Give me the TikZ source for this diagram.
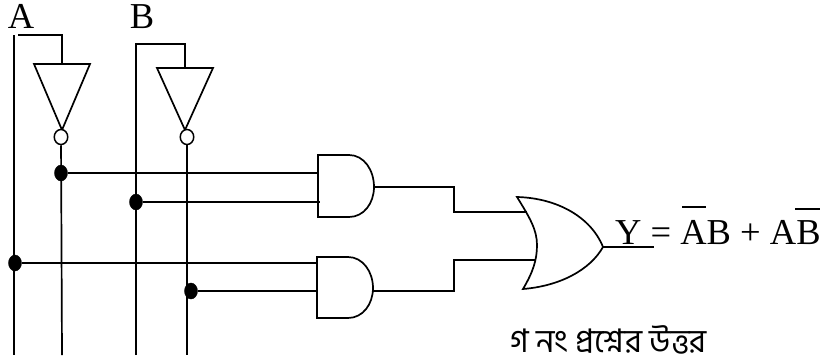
\documentclass[tikz,border=0pt]{standalone}
\usepackage{fontspec}
\setmainfont{Liberation Serif}
\newfontfamily\bengalifont[Script=Bengali]{Hind Siliguri}
\usetikzlibrary{shapes.geometric}
\tikzset{
	wire/.style={line width=1.7pt},
	dotjoin/.style={draw,fill=black,ellipse,minimum width=13pt,minimum height=16pt,inner sep=0pt},
	bubble/.style={draw,fill=white,line width=1.5pt,ellipse,minimum width=13.5pt,minimum height=15pt,inner sep=0pt},
	letter/.style={font=\fontsize{36.5}{40}\selectfont,inner sep=0pt}
}

\begin{document}
\begin{tikzpicture}[x=1pt,y=-1pt]
	\useasboundingbox (0,0) rectangle (823,362);

	% labels
	\node[letter,anchor=base] (A) at (21,28) {A};
	\node[letter,anchor=base] (B) at (142,28) {B};
	\node[letter,anchor=base west] (Y) at (615,244) {Y = AB + AB};
	\node[font=\bengalifont\fontsize{32.5}{36}\selectfont,inner sep=0pt,anchor=base] (note) at (608.5,352) {গ নং প্রশ্নের উত্তর};
	\draw[wire] (682,207) -- (706,207);
	\draw[wire] (795,209) -- (820,209);

	% inverters
	\coordinate (invAin) at (62,64);
	\coordinate (invBin) at (185,68);
	\draw[wire] (34,64) -- (90,64) -- (62,130) -- cycle;
	\draw[wire] (157,68) -- (213,68) -- (185,130) -- cycle;
	\node[bubble] (invAout) at (61,137) {};
	\node[bubble] (invBout) at (187,137) {};

	% rails
	\coordinate (Atop) at (14,35);
	\coordinate (Abot) at (14,355);
	\coordinate (Ajog) at (18,35);
	\coordinate (Acor) at (62,35);
	\coordinate (Btop) at (136,44);
	\coordinate (Bbot) at (136,355);
	\coordinate (Bcor) at (185,44);
	\coordinate (nAbot) at (62,355);
	\coordinate (nBbot) at (187,355);
	\draw[wire] (Atop) -- (Abot);
	\draw[wire] (Ajog) -- (Acor) -- (invAin);
	\draw[wire] (Bbot) -- (Btop) -- (Bcor) -- (invBin);
	\draw[wire] (invAout) -- (nAbot);
	\draw[wire] (invBout) -- (nBbot);

	% and gates
	\coordinate (and1a) at (318,173);
	\coordinate (and1b) at (320,202);
	\coordinate (and2a) at (317,263);
	\coordinate (and2b) at (317,291);
	\coordinate (and1out) at (374,187);
	\coordinate (and2out) at (373,291);
	\draw[wire] (318,155) -- (349,155) .. controls (364,155) and (374,170) .. (and1out)
		.. controls (374,203) and (364,217) .. (349,217) -- (318,217) -- cycle;
	\draw[wire] (317,257) -- (348,257) .. controls (363,257) and (373,272) .. (373,288)
		.. controls (373,304) and (363,318) .. (348,318) -- (317,318) -- cycle;

	% joins
	\node[dotjoin] (d1) at (61,173) {};
	\node[dotjoin] (d2) at (136,202) {};
	\node[dotjoin] (d3) at (15,263) {};
	\node[dotjoin] (d4) at (191,291) {};
	\draw[wire] (d1) -- (and1a);
	\draw[wire] (d2) -- (and1b);
	\draw[wire] (d3) -- (and2a);
	\draw[wire] (d4) -- (and2b);

	% or gate
	\coordinate (or1) at (527,212);
	\coordinate (or2) at (535,260);
	\coordinate (orout) at (603,247);
	\coordinate (Yend) at (654,247);
	\draw[wire] (517,197) .. controls (557,198) and (591,217) .. (orout)
		.. controls (590,270) and (560,286) .. (523,289)
		.. controls (533,272) and (537,260) .. (537,245)
		.. controls (537,230) and (530,218) .. (517,197) -- cycle;
	\coordinate (j1a) at (454,187);
	\coordinate (j1b) at (454,212);
	\coordinate (j2a) at (454,291);
	\coordinate (j2b) at (454,260);
	\draw[wire] (and1out) -- (j1a) -- (j1b) -- (or1);
	\draw[wire] (and2out) -- (j2a) -- (j2b) -- (or2);
	\draw[wire] (orout) -- (Yend);
\end{tikzpicture}
\end{document}
